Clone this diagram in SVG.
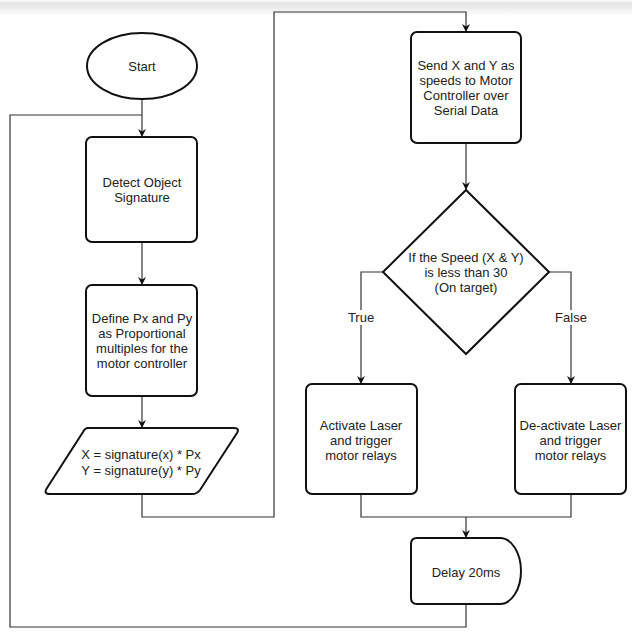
<svg xmlns="http://www.w3.org/2000/svg" width="632" height="633" viewBox="0 0 632 633">
<defs>
<linearGradient id="topShade" x1="0" y1="0" x2="0" y2="1">
<stop offset="0" stop-color="#ffffff"/>
<stop offset="0.2" stop-color="#e2e2e2"/>
<stop offset="1" stop-color="#ffffff"/>
</linearGradient>
<marker id="arrow" viewBox="0 0 10 10" refX="10" refY="5" markerWidth="8" markerHeight="8" markerUnits="userSpaceOnUse" orient="auto">
<path d="M0,0 L10,5 L0,10 L3,5 Z" fill="#111"/>
</marker>
<style>
.node { fill: #fff; stroke: #111; stroke-width: 2; }
.conn { fill: none; stroke: #333; stroke-width: 1.2; }
.lbl { font-family: "Liberation Sans", Arial, sans-serif; font-size: 13px; fill: #222; text-anchor: middle; dominant-baseline: central; }
</style>
</defs>
<rect x="0" y="0" width="632" height="633" fill="#fff"/>
<rect x="0" y="0" width="632" height="16" fill="url(#topShade)"/>

<g id="connectors">
<path class="conn" d="M142,99 V137" marker-end="url(#arrow)"/>
<path class="conn" d="M142,242 V285" marker-end="url(#arrow)"/>
<path class="conn" d="M142,396 V428" marker-end="url(#arrow)"/>
<path class="conn" d="M142,494 V517 H274 V12 H466 V32" marker-end="url(#arrow)"/>
<path class="conn" d="M466,143 V190" marker-end="url(#arrow)"/>
<path class="conn" d="M383,272 H361 V384" marker-end="url(#arrow)"/>
<path class="conn" d="M549,272 H571 V384" marker-end="url(#arrow)"/>
<path class="conn" d="M361,494 V517 H571 V494"/>
<path class="conn" d="M466,517 V538" marker-end="url(#arrow)"/>
<path class="conn" d="M466,604 V627 H10 V115 H142"/>
<rect x="346" y="310" width="30" height="15" fill="#fff"/>
<text class="lbl" x="361" y="317">True</text>
<rect x="554" y="310" width="34" height="15" fill="#fff"/>
<text class="lbl" x="571" y="317">False</text>
</g>

<g id="start">
<ellipse class="node" cx="142" cy="66" rx="55" ry="33"/>
<text class="lbl" x="142" y="66">Start</text>
</g>

<g id="detect">
<rect class="node" x="86" y="137" width="111" height="105" rx="6"/>
<text class="lbl" x="142" y="182">Detect Object</text>
<text class="lbl" x="142" y="197">Signature</text>
</g>

<g id="define">
<rect class="node" x="86" y="285" width="111" height="111" rx="6"/>
<text class="lbl" x="142" y="318">Define Px and Py</text>
<text class="lbl" x="142" y="333">as Proportional</text>
<text class="lbl" x="142" y="348">multiples for the</text>
<text class="lbl" x="142" y="363">motor controller</text>
</g>

<g id="compute">
<path class="node" d="M88,428 H234 Q240,428 237,433 L200,490 Q197,494 192,494 H50 Q43,494 47,488 L83,432 Q85,428 88,428 Z"/>
<text class="lbl" x="141" y="454">X = signature(x) * Px</text>
<text class="lbl" x="141" y="470">Y = signature(y) * Py</text>
</g>

<g id="send">
<rect class="node" x="411" y="32" width="110" height="111" rx="6"/>
<text class="lbl" x="466" y="65">Send X and Y as</text>
<text class="lbl" x="466" y="80">speeds to Motor</text>
<text class="lbl" x="466" y="95.5">Controller over</text>
<text class="lbl" x="466" y="110.5">Serial Data</text>
</g>

<g id="decision">
<path class="node" d="M466,190 L549,272 L466,354 L383,272 Z"/>
<text class="lbl" x="466" y="257.5">If the Speed (X &amp; Y)</text>
<text class="lbl" x="466" y="272.5">is less than 30</text>
<text class="lbl" x="466" y="287.5">(On target)</text>
</g>

<g id="activate">
<rect class="node" x="306" y="384" width="111" height="110" rx="6"/>
<text class="lbl" x="361" y="425">Activate Laser</text>
<text class="lbl" x="361" y="440">and trigger</text>
<text class="lbl" x="361" y="455">motor relays</text>
</g>

<g id="deactivate">
<rect class="node" x="515" y="384" width="111" height="110" rx="6"/>
<text class="lbl" x="570.5" y="425">De-activate Laser</text>
<text class="lbl" x="570.5" y="440">and trigger</text>
<text class="lbl" x="570.5" y="455">motor relays</text>
</g>

<g id="delay">
<path class="node" d="M417,538 H500 A21,33 0 0 1 500,604 H417 Q411,604 411,598 V544 Q411,538 417,538 Z"/>
<text class="lbl" x="466" y="572">Delay 20ms</text>
</g>
</svg>
